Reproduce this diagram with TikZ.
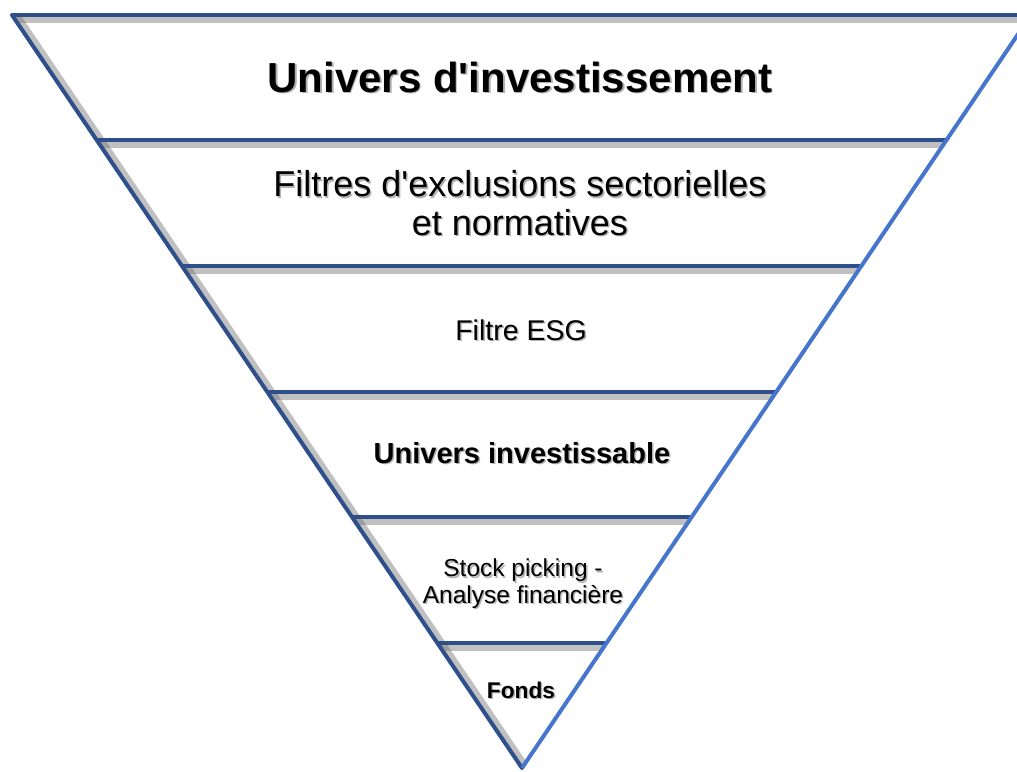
\documentclass[tikz,border=0pt]{standalone}
\usepackage{fontspec}
\setmainfont{Liberation Sans}[Ligatures=TeXOff]
\usetikzlibrary{
  calc,
}
\definecolor{edgedark}{RGB}{47,79,140}
\definecolor{edgelight}{RGB}{70,118,204}
\newcommand\shtext[1]{\leavevmode\rlap{\kern1.5pt\raisebox{-1.5pt}{\color{black!30}#1}}#1}
\tikzset{
  band line/.style={edgedark, line width=4pt},
  band shadow/.style={black!55, line width=6pt, opacity=0.45},
  label/.style={anchor=base, align=center, inner sep=0pt},
}

\begin{document}
\begin{tikzpicture}[x=1pt, y=-1pt]
\useasboundingbox (0,0) rectangle (1017,771);
\coordinate (tl) at (12,15);
\coordinate (tr) at (1031,15);
\coordinate (apex) at (522,768);
\begin{scope}
  \clip (tl) -- (tr) -- (apex) -- cycle;
  \foreach \k in {0,...,5} {
    \draw[band shadow] ($(tl)!\k/6!(apex)+(2,5)$) -- ($(tr)!\k/6!(apex)+(0,5)$);
  }
  \draw[band shadow] ($(tl)+(5,0)$) -- ($(apex)+(5,0)$);
\end{scope}
\foreach \k in {0,...,5} {
  \draw[band line] ($(tl)!\k/6!(apex)$) -- ($(tr)!\k/6!(apex)$);
}
\draw[band line, line cap=round] (tl) -- (apex);
\draw[edgelight, line width=4pt] (apex) -- (tr);
% the base of a two-line label is the baseline of its last line
\node[label, font=\fontsize{42}{46}\selectfont\bfseries] (univers) at (520,92) {\shtext{Univers d'investissement}};
\node[label, font=\fontsize{36}{38.5}\selectfont] (filtres) at (520,235) {\shtext{Filtres d'exclusions sectorielles}\\\shtext{et normatives}};
\node[label, font=\fontsize{28.5}{31}\selectfont] (esg) at (521,340) {\shtext{Filtre ESG}};
\node[label, font=\fontsize{29}{32}\selectfont\bfseries] (investissable) at (522,463) {\shtext{Univers investissable}};
\node[label, font=\fontsize{24.5}{26.5}\selectfont] (picking) at (523,603) {\shtext{Stock picking -}\\\shtext{Analyse financière}};
\node[label, font=\fontsize{22.7}{25}\selectfont\bfseries] (fonds) at (521,698) {\shtext{Fonds}};
\end{tikzpicture}
\end{document}
